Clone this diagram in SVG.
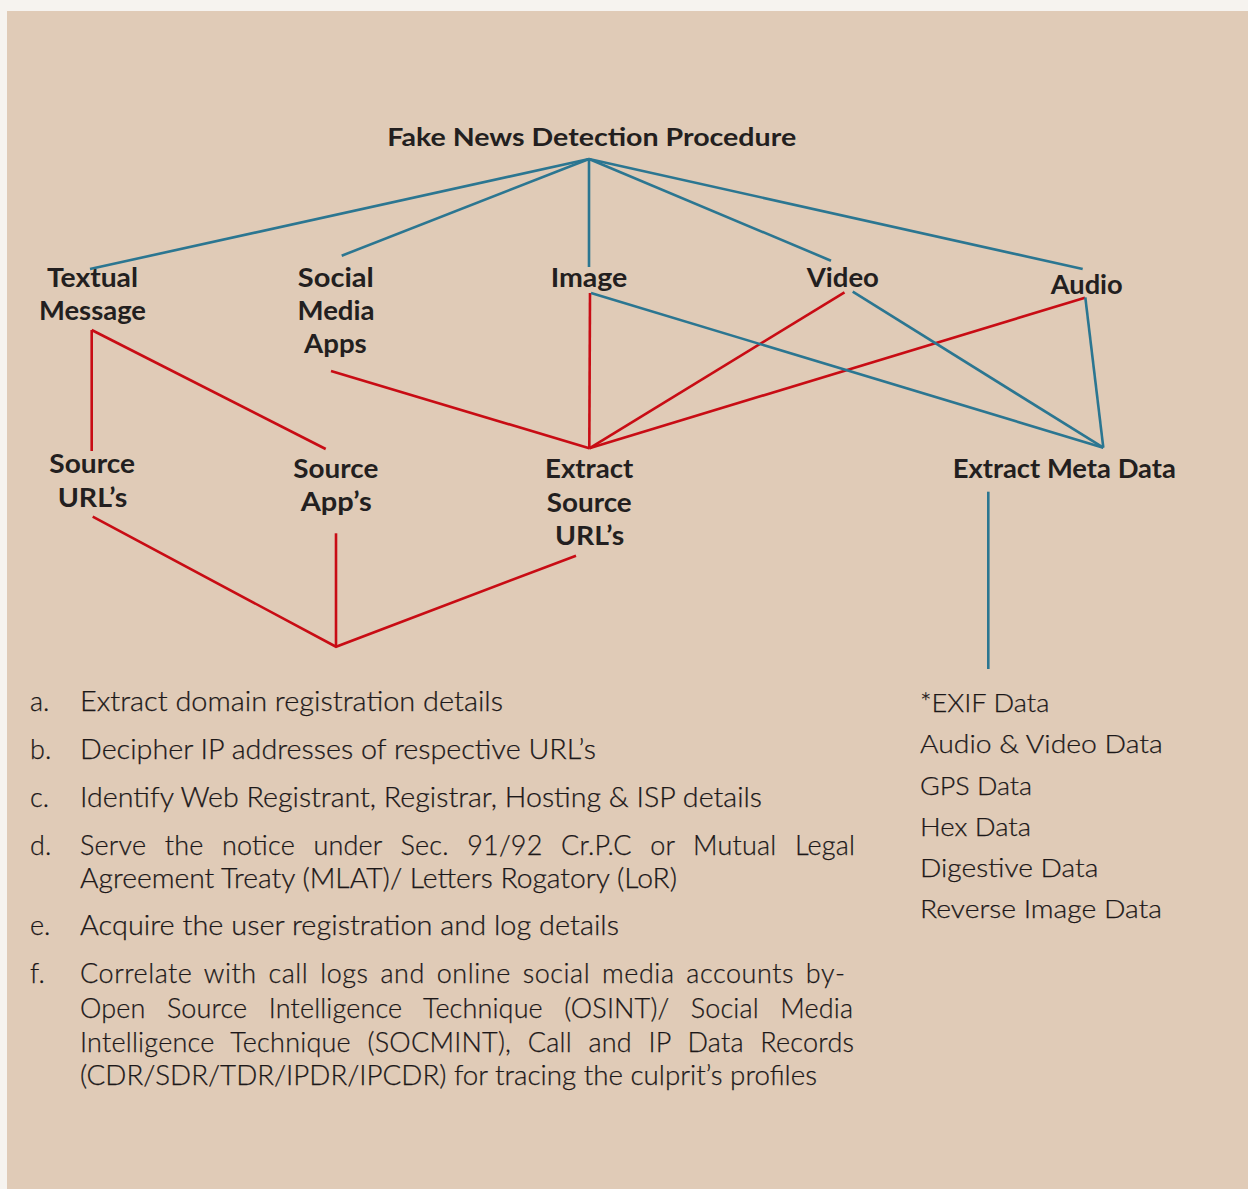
<svg xmlns="http://www.w3.org/2000/svg" width="1248" height="1189" viewBox="0 0 1248 1189">
<style>
.bg{fill:#e0cbb7}
.lbl{font-family:Lato,"Open Sans","Liberation Sans",sans-serif;font-weight:700;font-size:26px;fill:#231f20;text-anchor:middle}
.title{font-size:25px}
.body{font-family:Lato,"Open Sans","Liberation Sans",sans-serif;font-weight:300;font-size:27px;fill:#1c1819;stroke:#1c1819;stroke-width:0.25}
.side{font-family:Lato,"Open Sans","Liberation Sans",sans-serif;font-weight:300;font-size:26px;fill:#1c1819;stroke:#1c1819;stroke-width:0.25}
.b{stroke:#2b7691;stroke-width:2.6;fill:none}
.r{stroke:#c80c14;stroke-width:2.6;fill:none}
</style>
<rect width="1248" height="1189" fill="#f6f3ef"/>
<rect class="bg" x="7" y="11" width="1241" height="1178"/>

<g id="connectors">
  <line class="b" x1="589" y1="159" x2="90" y2="269"/>
  <line class="b" x1="589" y1="159" x2="341.7" y2="255.7"/>
  <line class="b" x1="589" y1="159" x2="589" y2="267"/>
  <line class="b" x1="589" y1="159" x2="831" y2="260.7"/>
  <line class="b" x1="589" y1="159" x2="1082.7" y2="269"/>
  <line class="r" x1="91.7" y1="330" x2="91.7" y2="451"/>
  <line class="r" x1="91.7" y1="330" x2="325.7" y2="449"/>
  <line class="r" x1="331" y1="371" x2="589.3" y2="448.3"/>
  <line class="r" x1="590" y1="293" x2="589.3" y2="448.3"/>
  <line class="r" x1="844.5" y1="292.3" x2="589.3" y2="448.3"/>
  <line class="r" x1="1085" y1="297.7" x2="589.3" y2="448.3"/>
  <line class="b" x1="591" y1="293" x2="1103.3" y2="447.7"/>
  <line class="b" x1="852.7" y1="291.7" x2="1103.3" y2="447.7"/>
  <line class="b" x1="1085.3" y1="297.3" x2="1103.3" y2="447.7"/>
  <line class="b" x1="988.3" y1="491.7" x2="988.3" y2="669"/>
  <polyline class="r" points="92.7,516.7 336,646.7 576,555.7"/>
  <line class="r" x1="336" y1="533.3" x2="336" y2="646.7"/>
</g>

<g id="node-root"><text class="lbl title" x="591.7" y="146" textLength="409" lengthAdjust="spacingAndGlyphs">Fake News Detection Procedure</text></g>
<g id="node-textual">
  <text class="lbl" x="92.5" y="287" textLength="91" lengthAdjust="spacingAndGlyphs">Textual</text>
  <text class="lbl" x="92.5" y="320" textLength="107" lengthAdjust="spacingAndGlyphs">Message</text>
</g>
<g id="node-social">
  <text class="lbl" x="335.8" y="286.7" textLength="76" lengthAdjust="spacingAndGlyphs">Social</text>
  <text class="lbl" x="336" y="320" textLength="77" lengthAdjust="spacingAndGlyphs">Media</text>
  <text class="lbl" x="335.4" y="353" textLength="62.7" lengthAdjust="spacingAndGlyphs">Apps</text>
</g>
<g id="node-image"><text class="lbl" x="589" y="286.7" textLength="76.7" lengthAdjust="spacingAndGlyphs">Image</text></g>
<g id="node-video"><text class="lbl" x="842.8" y="286.7" textLength="72.3" lengthAdjust="spacingAndGlyphs">Video</text></g>
<g id="node-audio"><text class="lbl" x="1086.7" y="294" textLength="72" lengthAdjust="spacingAndGlyphs">Audio</text></g>
<g id="node-source-urls">
  <text class="lbl" x="92.2" y="472.7" textLength="85.7" lengthAdjust="spacingAndGlyphs">Source</text>
  <text class="lbl" x="92.5" y="506.7" textLength="69.7" lengthAdjust="spacingAndGlyphs">URL’s</text>
</g>
<g id="node-source-apps">
  <text class="lbl" x="335.8" y="478.3" textLength="85" lengthAdjust="spacingAndGlyphs">Source</text>
  <text class="lbl" x="336.2" y="511" textLength="71" lengthAdjust="spacingAndGlyphs">App’s</text>
</g>
<g id="node-extract-source">
  <text class="lbl" x="589.2" y="478.3" textLength="88.3" lengthAdjust="spacingAndGlyphs">Extract</text>
  <text class="lbl" x="589.2" y="511.7" textLength="85" lengthAdjust="spacingAndGlyphs">Source</text>
  <text class="lbl" x="589.7" y="545" textLength="69.3" lengthAdjust="spacingAndGlyphs">URL’s</text>
</g>
<g id="node-extract-meta"><text class="lbl" x="1064.3" y="478.3" textLength="223.3" lengthAdjust="spacingAndGlyphs">Extract Meta Data</text></g>

<g id="steps">
  <text class="body" x="30" y="710.7">a.</text>
  <text class="body" x="80" y="710.7" textLength="423" lengthAdjust="spacingAndGlyphs">Extract domain registration details</text>
  <text class="body" x="30" y="759">b.</text>
  <text class="body" x="80" y="759" textLength="516" lengthAdjust="spacingAndGlyphs">Decipher IP addresses of respective URL’s</text>
  <text class="body" x="30" y="806.7">c.</text>
  <text class="body" x="80" y="806.7" textLength="682" lengthAdjust="spacingAndGlyphs">Identify Web Registrant, Registrar, Hosting &amp; ISP details</text>
  <text class="body" x="30" y="855">d.</text>
  <text class="body" x="80" y="855" word-spacing="11" textLength="775" lengthAdjust="spacing">Serve the notice under Sec. 91/92 Cr.P.C or Mutual Legal</text>
  <text class="body" x="80" y="888" textLength="597" lengthAdjust="spacingAndGlyphs">Agreement Treaty (MLAT)/ Letters Rogatory (LoR)</text>
  <text class="body" x="30" y="935">e.</text>
  <text class="body" x="80" y="935" textLength="539" lengthAdjust="spacingAndGlyphs">Acquire the user registration and log details</text>
  <text class="body" x="30" y="983.3">f.</text>
  <text class="body" x="80" y="983.3" word-spacing="4" textLength="765" lengthAdjust="spacing">Correlate with call logs and online social media accounts by-</text>
  <text class="body" x="80" y="1018" word-spacing="14" textLength="773" lengthAdjust="spacing">Open Source Intelligence Technique (OSINT)/ Social Media</text>
  <text class="body" x="80" y="1051.7" word-spacing="9" textLength="774" lengthAdjust="spacing">Intelligence Technique (SOCMINT), Call and IP Data Records</text>
  <text class="body" x="80" y="1085" textLength="737" lengthAdjust="spacingAndGlyphs">(CDR/SDR/TDR/IPDR/IPCDR) for tracing the culprit’s profiles</text>
</g>

<g id="meta-list">
  <text class="side" x="920" y="711.7" textLength="129.3" lengthAdjust="spacingAndGlyphs">*EXIF Data</text>
  <text class="side" x="920" y="753.3" textLength="242.7" lengthAdjust="spacingAndGlyphs">Audio &amp; Video Data</text>
  <text class="side" x="920" y="795" textLength="112" lengthAdjust="spacingAndGlyphs">GPS Data</text>
  <text class="side" x="920" y="836" textLength="111" lengthAdjust="spacingAndGlyphs">Hex Data</text>
  <text class="side" x="920" y="877.3" textLength="178.3" lengthAdjust="spacingAndGlyphs">Digestive Data</text>
  <text class="side" x="920" y="918.3" textLength="242" lengthAdjust="spacingAndGlyphs">Reverse Image Data</text>
</g>
</svg>
